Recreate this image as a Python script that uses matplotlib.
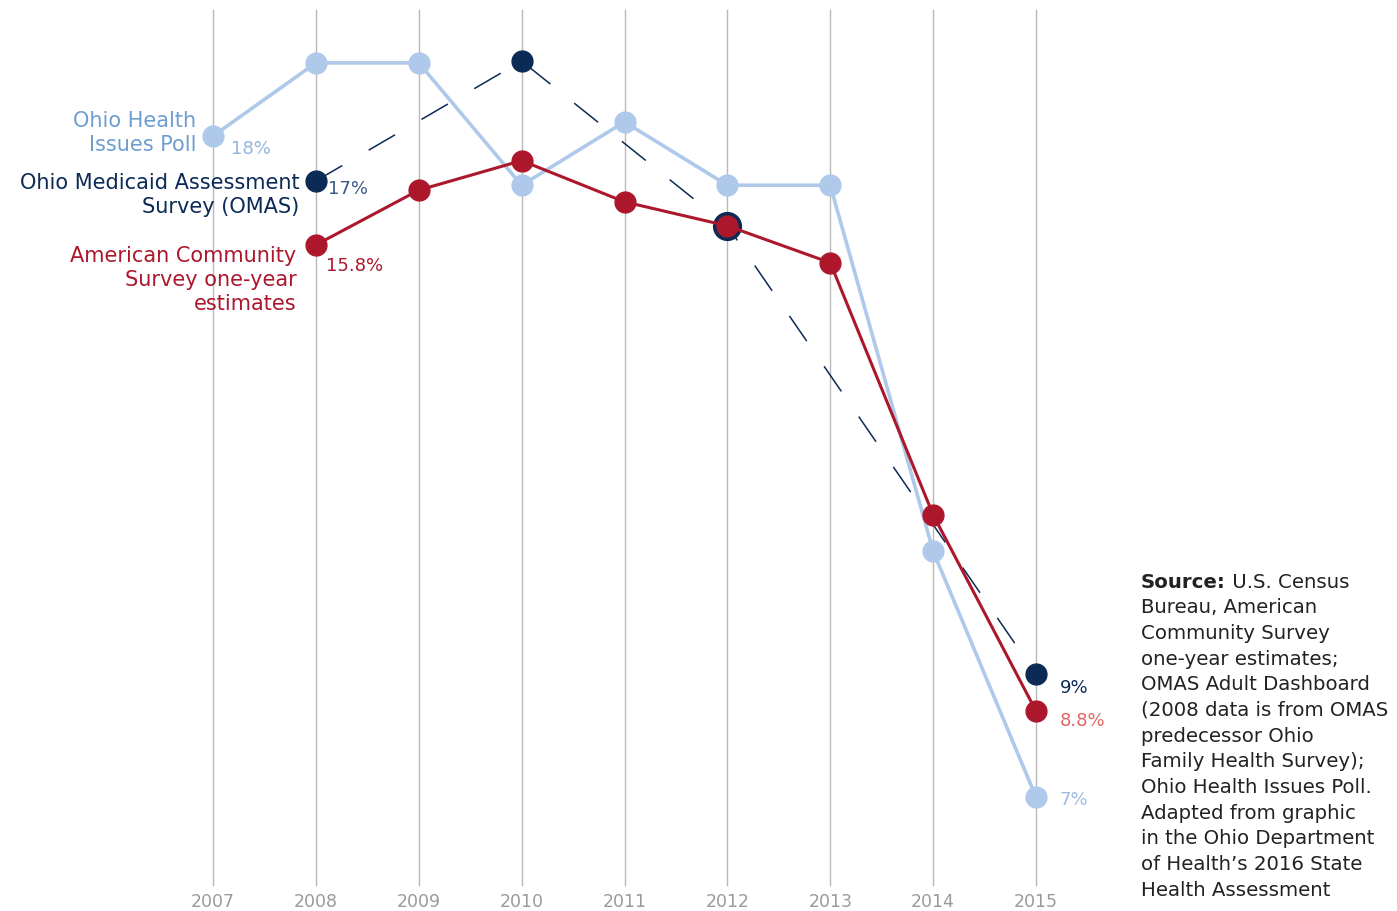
import matplotlib
matplotlib.use("Agg")
import matplotlib.pyplot as plt

# years on the x axis
years = [2007, 2008, 2009, 2010, 2011, 2012, 2013, 2014, 2015]

# Ohio Health Issues Poll (percent uninsured)
ohip_years = [2007, 2008, 2009, 2010, 2011, 2012, 2013, 2014, 2015]
ohip_vals = [17.73, 18.92, 18.92, 16.93, 17.96, 16.93, 16.93, 10.98, 6.98]

# Ohio Medicaid Assessment Survey
omas_years = [2008, 2010, 2012, 2015]
omas_vals = [17.0, 18.95, 16.27, 8.98]

# American Community Survey one-year estimates
acs_years = [2008, 2009, 2010, 2011, 2012, 2013, 2014, 2015]
acs_vals = [15.96, 16.85, 17.33, 16.66, 16.27, 15.67, 11.57, 8.38]

# end labels as printed on the chart
ohip_labels = ["18%", "7%"]
omas_labels = ["17%", "9%"]
acs_labels = ["15.8%", "8.8%"]

LIGHT = "#afc9ea"
NAVY = "#0b2a55"
RED = "#ad172c"
GRID = "#b8b8b8"

plt.rcParams["font.family"] = ["DejaVu Sans"]

fig = plt.figure(figsize=(13.97, 9.11), dpi=100)
W, H = 1397, 911
ax = fig.add_axes([213 / W, (H - 885) / H, (1036 - 213) / W, 875 / H])
ax.set_xlim(2007, 2015)
ax.set_ylim(5.55, 19.78)

for y in years:
    ax.axvline(y, color=GRID, lw=1.0, zorder=0, clip_on=False)
    ax.text(y, -17 / 875, str(y), transform=ax.get_xaxis_transform(),
            ha="center", va="center", fontsize=12.5, color="#9a9a9a")

for s in ax.spines.values():
    s.set_visible(False)
ax.set_xticks([])
ax.set_yticks([])

# series
ax.plot(ohip_years, ohip_vals, color=LIGHT, lw=2.6, marker="o", ms=15,
        clip_on=False, zorder=2)
ax.plot(omas_years, omas_vals, color=NAVY, lw=1.1, dashes=(20, 20),
        zorder=3, clip_on=False)
ax.plot(omas_years, omas_vals, ls="none", color=NAVY, marker="o", ms=15,
        clip_on=False, zorder=3)
# 2012 OMAS point is drawn bigger, the ACS point sits inside it
i12 = omas_years.index(2012)
ax.plot([omas_years[i12]], [omas_vals[i12]], ls="none", color=NAVY,
        marker="o", ms=20, clip_on=False, zorder=3)
ax.plot(acs_years, acs_vals, color=RED, lw=2.2, marker="o", ms=15,
        clip_on=False, zorder=4)
j12 = acs_years.index(2012)
ax.plot([acs_years[j12]], [acs_vals[j12]], ls="none", color=RED,
        marker="o", ms=12, clip_on=False, zorder=5)

fs = 15

def note(txt, x, y, dx, dy, color, ha="left", size=fs):
    ax.annotate(txt, (x, y), xytext=(dx, dy), textcoords="offset points",
                ha=ha, va="center", color=color, fontsize=size,
                linespacing=1.25, annotation_clip=False)

# series names on the left
note("Ohio Health\nIssues Poll", ohip_years[0], ohip_vals[0], -12, 2, "#6e9dd0", ha="right")
note("Ohio Medicaid Assessment\nSurvey (OMAS)", omas_years[0], omas_vals[0], -12, -10, NAVY, ha="right")
note("American Community\nSurvey one-year\nestimates", acs_years[0], acs_vals[0], -14, -25, RED, ha="right")

# value labels
note(ohip_labels[0], ohip_years[0], ohip_vals[0], 13, -9, "#93b5e0", size=13)
note(omas_labels[0], omas_years[0], omas_vals[0], 9, -6, "#3b5a85", size=13)
note(acs_labels[0], acs_years[0], acs_vals[0], 7, -15, RED, size=13)
note(omas_labels[1], omas_years[-1], omas_vals[-1], 17, -10, NAVY, size=13)
note(acs_labels[1], acs_years[-1], acs_vals[-1], 17, -7, "#e06666", size=13)
note(ohip_labels[1], ohip_years[-1], ohip_vals[-1], 17, -2, "#9dbde5", size=13)

# source block: bold "Source:" then the rest of the text
src_head = "Source:"
src_first = " U.S. Census"
src_rest = ("Bureau, American\nCommunity Survey\n"
            "one-year estimates;\nOMAS Adult Dashboard\n(2008 data is from OMAS\n"
            "predecessor Ohio\nFamily Health Survey);\nOhio Health Issues Poll.\n"
            "Adapted from graphic\nin the Ohio Department\nof Health\u2019s 2016 State\n"
            "Health Assessment")
src_fs = 14.2
sx, sy = 1141 / W, (H - 582) / H
step = 25.7 / H
head = fig.text(sx, sy, src_head, ha="left", va="center", fontsize=src_fs,
                fontweight="bold", color="#222222")
r = fig.canvas.get_renderer()
hw = head.get_window_extent(renderer=r).width / W
fig.text(sx + hw, sy, src_first, ha="left", va="center", fontsize=src_fs,
         color="#222222")
for k, line in enumerate(src_rest.split("\n")):
    fig.text(sx, sy - (k + 1) * step, line, ha="left", va="center",
             fontsize=src_fs, color="#222222")

fig.savefig("out.png", dpi=100)
